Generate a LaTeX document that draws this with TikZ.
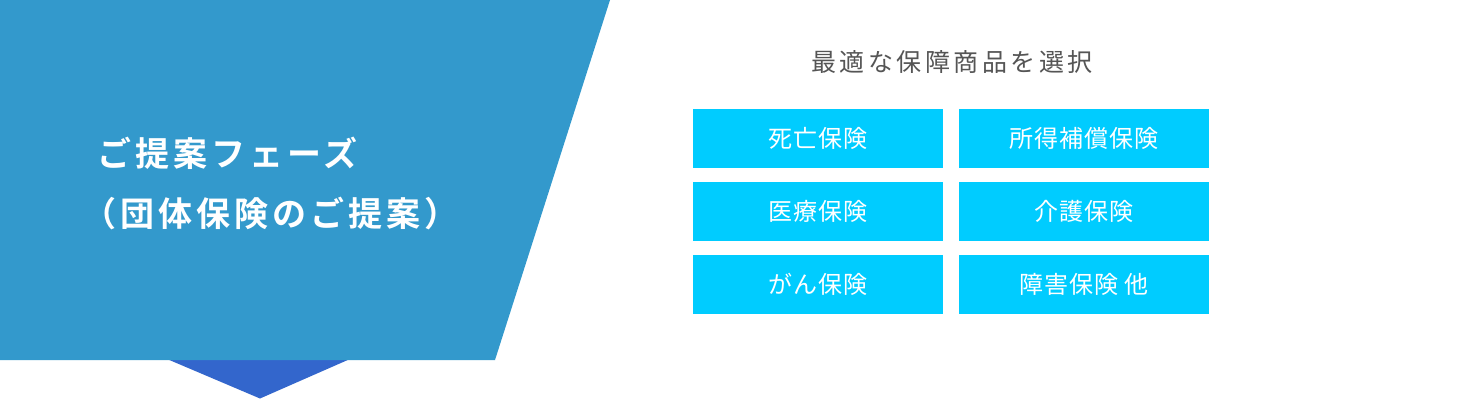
\documentclass[tikz,border=0pt]{standalone}
\usepackage{fontspec}
\newfontfamily\jptitle[LetterSpace=12]{Noto Sans CJK JP Bold}
\newfontfamily\jphead[LetterSpace=14]{Noto Sans CJK JP}
\newfontfamily\jpbox[LetterSpace=4]{Noto Sans CJK JP}
\definecolor{panelblue}{HTML}{3399CC}
\definecolor{arrowblue}{HTML}{3366CC}
\definecolor{boxcyan}{HTML}{00CCFF}
\definecolor{headgray}{HTML}{555555}
\tikzset{
  item/.style={fill=boxcyan, draw=none, minimum width=250pt, minimum height=59pt, inner sep=0pt,
    text=white, font=\jpbox\fontsize{24pt}{26pt}\selectfont},
  titleline/.style={anchor=west, inner sep=0pt, text=white, font=\jptitle\fontsize{34pt}{38pt}\selectfont},
}
\begin{document}
\begin{tikzpicture}[x=1pt,y=-1pt]
\useasboundingbox (0,0) rectangle (1460,400);
\fill[white] (0,0) rectangle (1460,400);
% pointer triangle
\fill[arrowblue] (167,359) -- (350,359) -- (260,398.5) -- cycle;
% panel
\fill[panelblue] (0,0) -- (610,0) -- (495,360) -- (0,360) -- cycle;
% title
\node[titleline] (t1) at (97,153) {ご提案フェーズ};
\node[titleline] (t2) at (82,213) {（団体保険のご提案）};
% header
\node[inner sep=0pt, text=headgray, font=\jphead\fontsize{25pt}{28pt}\selectfont] (head) at (952,62) {最適な保障商品を選択};
% boxes
\node[item] (b1) at (818,138.5) {死亡保険};
\node[item] (b2) at (1084,138.5) {所得補償保険};
\node[item] (b3) at (818,211.5) {医療保険};
\node[item] (b4) at (1084,211.5) {介護保険};
\node[item] (b5) at (818,284) {がん保険};
\node[item] (b6) at (1084,284) {障害保険 他};
\end{tikzpicture}
\end{document}
